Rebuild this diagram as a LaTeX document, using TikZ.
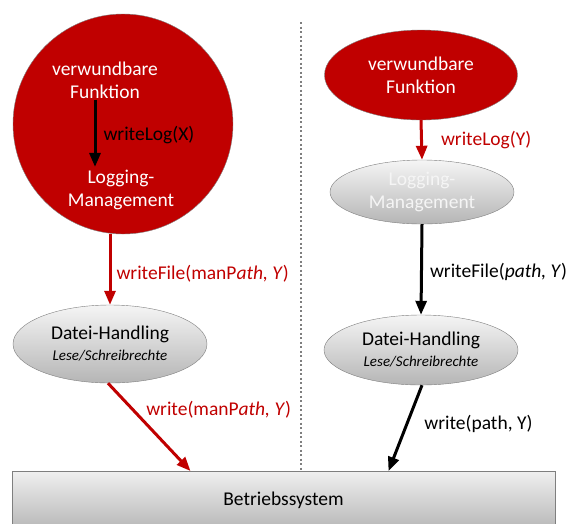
\documentclass[tikz,border=0pt]{standalone}
\usepackage{fontspec}
\setmainfont{Carlito}
\usetikzlibrary{positioning,arrows.meta,shapes.geometric}

\definecolor{vulnred}{HTML}{C00000}
\definecolor{rimgray}{HTML}{7F7F7F}

\tikzset{
  txt/.style={font=\fontsize{19.5}{23}\selectfont, align=center, inner sep=0pt},
  lbl/.style={font=\fontsize{19.5}{23}\selectfont, inner sep=0pt, anchor=west},
  redell/.style={ellipse, fill=vulnred, draw=rimgray, thin},
  grayell/.style={ellipse, draw=rimgray, thin, top color=gray!8, bottom color=gray!58},
  redarrow/.style={vulnred, line width=3pt, -{Triangle[length=14pt,width=11pt]}},
  blkarrow/.style={black, line width=3pt, -{Triangle[length=14pt,width=11pt]}}
}

\newcommand{\dhtext}{Datei-Handling\\[-2pt]{\fontsize{15}{18}\selectfont\itshape Lese/Schreibrechte}}

\begin{document}
\begin{tikzpicture}[x=1pt,y=-1pt]
  \useasboundingbox (0,0) rectangle (569,523);
  \begin{scope}
    \clip (0,0) rectangle (569,523);
    \node[draw=rimgray, thin, top color=gray!12, bottom color=gray!55,
          minimum width=543pt, minimum height=56pt, anchor=north] (bs) at (283.5,471) {};
  \end{scope}
  \node[txt] (bstext) at (283.5,500) {Betriebssystem};

  \draw[rimgray, line width=2pt, dash pattern=on 2pt off 2.5pt] (301,22) -- (bs.north -| 301,0);

  % linke Seite
  \node[circle, fill=vulnred, draw=rimgray, thin, minimum size=220pt] (big) at (123,124) {};
  \node[txt, text=white] (vfL) at (105,80) {verwundbare\\Funktion};
  \node[txt, text=white] (lmL) at (121,190) {Logging-\\Management};
  \node[grayell, minimum width=194pt, minimum height=78pt, txt] (dhL) at (110,344) {\dhtext};

  \draw[blkarrow] ([xshift=-10pt,yshift=-1pt]vfL.south) -- ([xshift=-26pt,yshift=3pt]lmL.north)
    node[lbl, midway, right=7pt, yshift=-2pt] (wlX) {writeLog(X)};
  \draw[redarrow] (dhL.north |- big.south) -- (dhL.north)
    node[lbl, vulnred, midway, right=5pt, yshift=-4pt] (wfL) {writeFile(manP\textit{ath, Y})};
  \draw[redarrow] ([xshift=-2pt]dhL.south) -- ([xshift=-93pt]bs.north)
    node[lbl, vulnred, pos=0.3, right=12pt] (wL) {write(manP\textit{ath, Y})};

  % rechte Seite
  \node[redell, minimum width=193pt, minimum height=90pt, txt, text=white] (vfR) at (421,75) {verwundbare\\Funktion};
  \node[grayell, minimum width=184pt, minimum height=64pt, txt, text=gray!8] (lmR) at (422,192) {Logging-\\Management};
  \node[grayell, minimum width=194pt, minimum height=70pt, txt] (dhR) at (421,350) {\dhtext};

  \draw[redarrow] (vfR.south) -- (lmR.north)
    node[lbl, vulnred, midway, right=18pt] (wlY) {writeLog(Y)};
  \draw[blkarrow] (lmR.south) -- (dhR.north)
    node[lbl, midway, right=7pt, yshift=-2pt] (wfR) {writeFile(\textit{path, Y})};
  \draw[blkarrow] ([xshift=1pt]dhR.south) -- ([xshift=105pt]bs.north)
    node[lbl, pos=0.45, right=16pt] (wR) {write(path, Y)};
\end{tikzpicture}
\end{document}
